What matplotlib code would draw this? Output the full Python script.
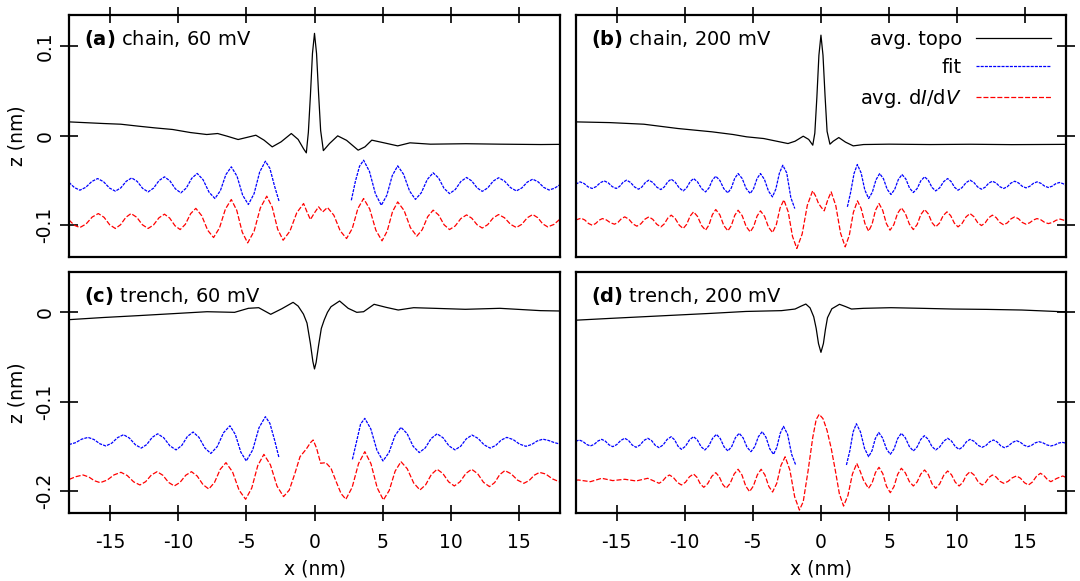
import matplotlib
matplotlib.use('Agg')
import matplotlib.pyplot as plt

plt.rcParams['font.family'] = ['DejaVu Sans']
plt.rcParams['axes.unicode_minus'] = False
plt.rcParams['mathtext.fontset'] = 'dejavusans'
plt.rcParams['lines.scale_dashes'] = False

# ---------------- tick definitions ----------------
x_ticks = [-15, -10, -5, 0, 5, 10, 15]
x_tick_labels = ['-15', '-10', '-5', '0', '5', '10', '15']
y_ticks_top = [-0.1, 0.0, 0.1]
y_tick_labels_top = ['-0.1', '0', '0.1']
y_ticks_bot = [-0.2, -0.1, 0.0]
y_tick_labels_bot = ['-0.2', '-0.1', '0']

panel_tags = ['(a)', '(b)', '(c)', '(d)']
panel_titles = ['chain, 60 mV', 'chain, 200 mV', 'trench, 60 mV', 'trench, 200 mV']
legend_labels = ['avg. topo', 'fit', r'avg. d$\mathit{I}$/d$\mathit{V}$']

# ---------------- panel (a): chain, 60 mV ----------------
x_topo_a = [-18, -15.5, -14.2, -12.9, -11.7, -10.4, -9.1, -7.9, -7.1, -6.4,
            -5.6, -5.0, -4.3, -3.7, -3.1, -2.45, -1.7, -1.2, -0.8, -0.6,
            -0.45, -0.3, -0.15, 0, 0.15, 0.3, 0.45, 0.65, 0.85, 1.1,
            1.7, 2.35, 3.2, 3.7, 4.2, 5.1, 6.1, 7.0, 8.5, 11.1,
            13.6, 16.6, 18]
z_topo_a = [0.0156, 0.0138, 0.013, 0.0108, 0.0089, 0.0071, 0.0037, 0.0015, 0.0026, -0.0004,
            -0.0041, -0.0019, 0.0007, -0.0048, -0.0123, -0.0067, 0.0026, -0.004, -0.0145, -0.019,
            0.004, 0.045, 0.092, 0.1145, 0.092, 0.047, 0.006, -0.0165, -0.013, -0.0086,
            0.0, -0.005, -0.016, -0.0123, -0.0048, -0.0078, -0.0112, -0.0078, -0.0093, -0.0088,
            -0.0093, -0.0097, -0.0095]

x_fitL_a = [-18.0, -17.6, -17.2, -16.77, -16.33, -15.9, -15.47, -15.03, -14.6, -14.2,
            -13.8, -13.4, -13.0, -12.6, -12.2, -11.8, -11.4, -11.0, -10.6, -10.2,
            -9.8, -9.4, -9.0, -8.6, -8.17, -7.73, -7.3, -6.9, -6.5, -6.1,
            -5.68, -5.27, -4.85, -4.43, -4.02, -3.6, -3.27, -2.93, -2.6]
z_fitL_a = [-0.052, -0.0578, -0.0607, -0.0575, -0.051, -0.0477, -0.0512, -0.0583, -0.0618, -0.0581,
            -0.0507, -0.047, -0.0509, -0.0587, -0.0626, -0.0584, -0.05, -0.0458, -0.0503, -0.0592,
            -0.0637, -0.0583, -0.0474, -0.042, -0.049, -0.063, -0.070, -0.0612, -0.0434, -0.0346,
            -0.0451, -0.0662, -0.0767, -0.0646, -0.0404, -0.0283, -0.0364, -0.0561, -0.073]

x_fitR_a = [2.7, 3.0, 3.3, 3.6, 4.03, 4.47, 4.9, 5.3, 5.7, 6.1,
            6.53, 6.97, 7.4, 7.83, 8.27, 8.7, 9.1, 9.5, 9.9, 10.32,
            10.73, 11.15, 11.53, 11.92, 12.3, 12.7, 13.1, 13.5, 13.93, 14.37,
            14.8, 15.2, 15.6, 16.0, 16.4, 16.8, 17.2, 17.6, 18.0]
z_fitR_a = [-0.072, -0.0507, -0.034, -0.0272, -0.0398, -0.0649, -0.0775, -0.0665, -0.0445, -0.0335,
            -0.0429, -0.0616, -0.071, -0.0636, -0.0487, -0.0413, -0.0471, -0.0587, -0.0645, -0.06,
            -0.051, -0.0465, -0.0504, -0.0581, -0.062, -0.0582, -0.0506, -0.0468, -0.0505, -0.0578,
            -0.0615, -0.0582, -0.0517, -0.0484, -0.0514, -0.0575, -0.0605, -0.0585, -0.0545]

x_didv_a = [-18.0, -17.6, -17.2, -16.75, -16.3, -15.85, -15.43, -15.02, -14.6, -14.22,
            -13.83, -13.45, -13.03, -12.62, -12.2, -11.8, -11.4, -11.0, -10.62, -10.23,
            -9.85, -9.47, -9.08, -8.7, -8.27, -7.83, -7.4, -6.97, -6.53, -6.1,
            -5.7, -5.3, -4.9, -4.43, -3.97, -3.5, -3.1, -2.7, -2.3, -1.8,
            -1.3, -0.8, -0.55, -0.3, 0.0, 0.3, 0.6, 0.95, 1.42, 1.88,
            2.35, 2.77, 3.18, 3.6, 4.05, 4.5, 4.95, 5.33, 5.72, 6.1,
            6.57, 7.03, 7.5, 7.9, 8.3, 8.7, 9.1, 9.5, 9.9, 10.32,
            10.73, 11.15, 11.53, 11.92, 12.3, 12.7, 13.1, 13.5, 13.93, 14.37,
            14.8, 15.2, 15.6, 16.0, 16.37, 16.73, 17.1, 17.55, 18.0]
z_didv_a = [-0.094, -0.1, -0.1024, -0.0985, -0.0907, -0.0868, -0.091, -0.0993, -0.1035, -0.0993,
            -0.091, -0.0868, -0.091, -0.0993, -0.1035, -0.0995, -0.0915, -0.0875, -0.0918, -0.1004,
            -0.1047, -0.0988, -0.0869, -0.081, -0.0892, -0.1055, -0.1136, -0.103, -0.0817, -0.0711,
            -0.0832, -0.1075, -0.1196, -0.1066, -0.0805, -0.0674, -0.0797, -0.1043, -0.1166, -0.1064,
            -0.0859, -0.0756, -0.085, -0.0935, -0.086, -0.0793, -0.085, -0.080, -0.0887, -0.106,
            -0.1147, -0.1035, -0.0812, -0.070, -0.0818, -0.1055, -0.1173, -0.1064, -0.0847, -0.0738,
            -0.0834, -0.1025, -0.1121, -0.1048, -0.0903, -0.083, -0.0884, -0.0993, -0.1047, -0.1006,
            -0.0924, -0.0883, -0.092, -0.0993, -0.103, -0.0992, -0.0917, -0.0879, -0.0915, -0.0988,
            -0.1024, -0.0988, -0.0915, -0.0879, -0.0914, -0.0983, -0.1017, -0.099, -0.093]

# ---------------- panel (b): chain, 200 mV ----------------
x_topo_b = [-18, -15.5, -13.0, -10.5, -8.0, -6.45, -5.45, -4.2, -2.42, -1.9,
            -1.3, -0.9, -0.6, -0.45, -0.3, -0.15, 0, 0.15, 0.3, 0.45,
            0.66, 0.9, 1.31, 1.8, 2.37, 3.13, 5.0, 8.0, 11.0, 14.0,
            18.0]
z_topo_b = [0.0156, 0.0148, 0.013, 0.0082, 0.0045, 0.0015, -0.0011, -0.003, -0.0086, -0.006,
            -0.0004, -0.004, -0.0104, 0.003, 0.043, 0.09, 0.1125, 0.09, 0.045, 0.005,
            -0.0093, -0.006, -0.0019, -0.007, -0.0112, -0.0097, -0.0093, -0.0097, -0.0094, -0.0098,
            -0.0095]

x_fitL_b = [-18.0, -17.68, -17.38, -17.09, -16.79, -16.5, -16.2, -15.91, -15.62, -15.32,
            -15.03, -14.78, -14.52, -14.27, -13.98, -13.68, -13.39, -13.14, -12.88, -12.63,
            -12.34, -12.04, -11.75, -11.5, -11.24, -10.99, -10.7, -10.4, -10.11, -9.86,
            -9.6, -9.35, -9.06, -8.76, -8.47, -8.22, -7.97, -7.72, -7.42, -7.13,
            -6.83, -6.58, -6.33, -6.08, -5.78, -5.49, -5.19, -4.94, -4.69, -4.44,
            -4.15, -3.85, -3.56, -3.31, -3.05, -2.8, -2.51, -2.21, -1.92]
z_fitL_b = [-0.054, -0.0514, -0.0533, -0.057, -0.0588, -0.0567, -0.0524, -0.0503, -0.0524, -0.0567,
            -0.0588, -0.0565, -0.0518, -0.0495, -0.052, -0.0571, -0.0596, -0.0571, -0.052, -0.0495,
            -0.0521, -0.0574, -0.06, -0.0571, -0.0513, -0.0484, -0.0517, -0.0582, -0.0615, -0.0581,
            -0.0512, -0.0477, -0.0514, -0.0589, -0.0626, -0.0582, -0.0495, -0.0451, -0.0498, -0.059,
            -0.0637, -0.0583, -0.0475, -0.0421, -0.0477, -0.0588, -0.0644, -0.0588, -0.0477, -0.0421,
            -0.0486, -0.0617, -0.0682, -0.0594, -0.0417, -0.0328, -0.0415, -0.069, -0.0812]

x_fitR_b = [1.94, 2.18, 2.43, 2.67, 2.95, 3.22, 3.5, 3.77, 4.04, 4.31,
            4.59, 4.86, 5.14, 5.41, 5.68, 5.95, 6.23, 6.5, 6.78, 7.06,
            7.33, 7.61, 7.88, 8.15, 8.42, 8.71, 9.01, 9.3, 9.55, 9.81,
            10.06, 10.35, 10.65, 10.94, 11.22, 11.5, 11.78, 12.05, 12.31, 12.58,
            12.86, 13.13, 13.41, 13.68, 13.95, 14.22, 14.5, 14.77, 15.05, 15.32,
            15.59, 15.86, 16.14, 16.41, 16.69, 16.96, 17.23, 17.5, 17.75, 18.0]
z_fitR_b = [-0.0793, -0.063, -0.042, -0.032, -0.0415, -0.0605, -0.07, -0.063, -0.0491, -0.0421,
            -0.048, -0.0597, -0.0655, -0.0599, -0.0488, -0.0432, -0.0482, -0.0583, -0.0633, -0.0589,
            -0.0502, -0.0458, -0.0497, -0.0576, -0.0615, -0.0581, -0.0511, -0.0477, -0.051, -0.0575,
            -0.0607, -0.0579, -0.0523, -0.0495, -0.052, -0.0571, -0.0596, -0.0574, -0.0529, -0.0507,
            -0.0527, -0.0568, -0.0588, -0.0568, -0.0527, -0.0507, -0.0526, -0.0563, -0.0581, -0.0564,
            -0.0531, -0.0514, -0.053, -0.0561, -0.0577, -0.0563, -0.0535, -0.0521, -0.0533, -0.0553]

x_didv_b = [-18.0, -17.6, -17.33, -17.06, -16.79, -16.54, -16.29, -16.04, -15.74, -15.45,
            -15.15, -14.9, -14.65, -14.4, -14.1, -13.81, -13.51, -13.22, -12.92, -12.63,
            -12.34, -12.04, -11.75, -11.5, -11.24, -10.99, -10.7, -10.4, -10.11, -9.86,
            -9.6, -9.35, -9.06, -8.76, -8.47, -8.22, -7.97, -7.72, -7.42, -7.13,
            -6.83, -6.58, -6.33, -6.08, -5.78, -5.49, -5.19, -4.94, -4.69, -4.44,
            -4.14, -3.85, -3.55, -3.27, -3.0, -2.72, -2.4, -2.09, -1.77, -1.38,
            -1.0, -0.61, -0.4, -0.18, 0.03, 0.24, 0.5, 0.75, 1.09, 1.44,
            1.78, 2.08, 2.38, 2.68, 2.95, 3.23, 3.5, 3.75, 4.0, 4.26,
            4.53, 4.8, 5.07, 5.35, 5.62, 5.9, 6.19, 6.49, 6.78, 7.06,
            7.33, 7.61, 7.88, 8.15, 8.42, 8.7, 8.97, 9.25, 9.52, 9.79,
            10.06, 10.35, 10.65, 10.94, 11.22, 11.5, 11.78, 12.05, 12.31, 12.58,
            12.86, 13.13, 13.41, 13.68, 13.95, 14.22, 14.5, 14.77, 15.05, 15.32,
            15.59, 15.86, 16.14, 16.41, 16.69, 16.98, 17.26, 17.55, 18.0]
z_didv_b = [-0.094, -0.092, -0.094, -0.0979, -0.0998, -0.098, -0.0943, -0.0924, -0.094, -0.0971,
            -0.0987, -0.0967, -0.0926, -0.0905, -0.0931, -0.0983, -0.1009, -0.0983, -0.0931, -0.0905,
            -0.0933, -0.0989, -0.1017, -0.0984, -0.0919, -0.0886, -0.0923, -0.0998, -0.1035, -0.0989,
            -0.0896, -0.0849, -0.09, -0.1003, -0.1054, -0.0996, -0.0881, -0.0823, -0.0883, -0.1002,
            -0.1061, -0.1004, -0.0889, -0.0831, -0.0892, -0.1013, -0.1073, -0.1014, -0.0897, -0.0838,
            -0.0899, -0.102, -0.108, -0.0989, -0.0806, -0.0715, -0.0851, -0.1122, -0.1258, -0.1097,
            -0.0775, -0.0614, -0.067, -0.0755, -0.080, -0.0838, -0.0715, -0.0626, -0.078, -0.1087,
            -0.124, -0.1112, -0.0855, -0.0726, -0.0811, -0.098, -0.1065, -0.0988, -0.0833, -0.0756,
            -0.0831, -0.0979, -0.1054, -0.0992, -0.0867, -0.0804, -0.0865, -0.0986, -0.1047, -0.0991,
            -0.0879, -0.0823, -0.0872, -0.0969, -0.1017, -0.0975, -0.0891, -0.0849, -0.0891, -0.0975,
            -0.1017, -0.098, -0.0905, -0.0868, -0.0902, -0.0969, -0.1002, -0.0973, -0.0915, -0.0886,
            -0.0913, -0.0967, -0.0994, -0.0972, -0.0927, -0.0905, -0.0926, -0.0967, -0.0987, -0.0971,
            -0.094, -0.0924, -0.0938, -0.0966, -0.098, -0.0968, -0.0943, -0.093, -0.095]

# ---------------- panel (c): trench, 60 mV ----------------
x_topo_c = [-18, -15.5, -12.93, -10.4, -7.88, -5.86, -4.85, -4.09, -3.21, -2.4,
            -1.57, -1.2, -0.81, -0.55, -0.3, -0.12, 0.0, 0.12, 0.3, 0.5,
            0.71, 0.95, 1.21, 1.84, 2.47, 3.1, 3.6, 4.37, 5.25, 6.14,
            7.27, 8.79, 11.06, 13.59, 16.57, 18.0]
z_topo_c = [-0.0082, -0.0058, -0.0037, -0.0015, 0.0007, 0.0, 0.0045, 0.0052, -0.0022, 0.004,
            0.0112, 0.007, -0.002, -0.012, -0.035, -0.055, -0.0634, -0.056, -0.037, -0.018,
            -0.0086, 0.0, 0.0063, 0.0127, 0.0045, 0.0, 0.0007, 0.009, 0.0056, 0.0026,
            0.0052, 0.0045, 0.0034, 0.0045, 0.0019, 0.0015]

x_fitL_c = [-18.0, -17.53, -17.07, -16.6, -16.17, -15.73, -15.3, -14.87, -14.43, -14.0,
            -13.57, -13.13, -12.7, -12.3, -11.9, -11.5, -11.05, -10.6, -10.15, -9.73,
            -9.32, -8.9, -8.47, -8.03, -7.6, -7.13, -6.67, -6.2, -5.8, -5.4,
            -5.0, -4.53, -4.07, -3.6, -3.27, -2.93, -2.6]
z_fitL_c = [-0.148, -0.146, -0.142, -0.140, -0.1424, -0.1472, -0.1496, -0.1465, -0.1402, -0.137,
            -0.1408, -0.1483, -0.152, -0.148, -0.14, -0.136, -0.1405, -0.1495, -0.154, -0.149,
            -0.139, -0.134, -0.14, -0.152, -0.158, -0.1503, -0.1348, -0.127, -0.1369, -0.1566,
            -0.1664, -0.154, -0.1292, -0.1168, -0.1243, -0.1428, -0.163]

x_fitR_c = [2.78, 3.08, 3.38, 3.69, 4.13, 4.58, 5.02, 5.46, 5.9, 6.34,
            6.79, 7.23, 7.68, 8.12, 8.55, 8.99, 9.43, 9.86, 10.3, 10.72,
            11.13, 11.55, 11.99, 12.44, 12.88, 13.29, 13.69, 14.1, 14.57, 15.03,
            15.5, 15.92, 16.33, 16.75, 17.17, 17.58, 18.0]
z_fitR_c = [-0.1646, -0.145, -0.125, -0.1187, -0.1306, -0.1545, -0.1664, -0.157, -0.1381, -0.1287,
            -0.1358, -0.1499, -0.157, -0.1518, -0.1413, -0.136, -0.1405, -0.1495, -0.154, -0.1499,
            -0.1416, -0.1374, -0.1411, -0.1484, -0.152, -0.149, -0.143, -0.140, -0.1425, -0.1475,
            -0.150, -0.148, -0.144, -0.142, -0.1435, -0.1458, -0.1475]

x_didv_c = [-17.98, -17.5, -16.97, -16.55, -16.13, -15.71, -15.2, -14.7, -14.19, -13.73,
            -13.26, -12.8, -12.38, -11.96, -11.54, -11.12, -10.7, -10.28, -9.86, -9.44,
            -9.02, -8.6, -8.17, -7.75, -7.33, -6.91, -6.49, -6.01, -5.53, -5.05,
            -4.6, -4.16, -3.71, -3.23, -2.75, -2.27, -1.85, -1.45, -1.06, -0.6,
            -0.3, -0.1, 0.15, 0.45, 0.83, 1.21, 1.6, 1.95, 2.3, 2.76,
            3.23, 3.69, 4.14, 4.6, 5.05, 5.48, 5.91, 6.34, 6.8, 7.27,
            7.73, 8.15, 8.57, 8.99, 9.41, 9.83, 10.25, 10.67, 11.1, 11.52,
            11.96, 12.39, 12.83, 13.21, 13.58, 13.96, 14.42, 14.89, 15.35, 15.73,
            16.12, 16.5, 16.95, 17.45, 18.0]
z_didv_c = [-0.187, -0.184, -0.1821, -0.1843, -0.1886, -0.1907, -0.1878, -0.182, -0.1791, -0.1827,
            -0.1898, -0.1933, -0.1896, -0.1821, -0.1784, -0.1824, -0.1904, -0.1944, -0.1904, -0.1824,
            -0.1784, -0.1833, -0.193, -0.1978, -0.1904, -0.1757, -0.1683, -0.1786, -0.1991, -0.2093,
            -0.1967, -0.1716, -0.159, -0.1708, -0.1945, -0.2063, -0.199, -0.181, -0.1616, -0.153,
            -0.146, -0.1429, -0.152, -0.169, -0.1683, -0.1746, -0.19, -0.203, -0.2093, -0.196,
            -0.1693, -0.156, -0.1695, -0.1966, -0.2101, -0.1994, -0.1779, -0.1672, -0.1751, -0.191,
            -0.1989, -0.1931, -0.1815, -0.1757, -0.1804, -0.1897, -0.1944, -0.1897, -0.1804, -0.1757,
            -0.1806, -0.1903, -0.1951, -0.1906, -0.1817, -0.1772, -0.1808, -0.1879, -0.1914, -0.1884,
            -0.1823, -0.1792, -0.181, -0.1865, -0.190]

# ---------------- panel (d): trench, 200 mV ----------------
x_topo_d = [-18, -15.5, -13.0, -10.5, -8.0, -5.5, -2.9, -1.9, -1.45, -1.11,
            -0.8, -0.53, -0.35, -0.18, 0.0, 0.18, 0.33, 0.48, 0.8, 1.36,
            1.8, 2.24, 3.13, 5.14, 7.4, 9.68, 12.2, 14.73, 18.0]
z_topo_d = [-0.0088, -0.0068, -0.0049, -0.003, -0.0011, 0.001, 0.0019, 0.0037, 0.007, 0.0093,
            0.005, -0.005, -0.018, -0.035, -0.0448, -0.035, -0.019, -0.006, 0.004, 0.009,
            0.0065, 0.0037, 0.0045, 0.0052, 0.0045, 0.0037, 0.0033, 0.0026, 0.0005]

x_fitL_d = [-18.0, -17.75, -17.47, -17.2, -16.92, -16.64, -16.37, -16.09, -15.82, -15.55,
            -15.28, -14.99, -14.69, -14.4, -14.12, -13.85, -13.57, -13.28, -13.0, -12.71,
            -12.43, -12.16, -11.88, -11.58, -11.29, -10.99, -10.74, -10.49, -10.24, -9.94,
            -9.65, -9.35, -9.07, -8.8, -8.52, -8.24, -7.95, -7.67, -7.39, -7.11,
            -6.83, -6.55, -6.28, -6.0, -5.71, -5.43, -5.14, -4.86, -4.59, -4.31,
            -4.03, -3.76, -3.48, -3.24, -2.99, -2.75, -2.45, -2.15, -1.85]
z_fitL_d = [-0.1445, -0.1429, -0.1446, -0.1479, -0.1496, -0.1478, -0.1441, -0.1422, -0.1443, -0.1484,
            -0.1504, -0.1481, -0.1434, -0.141, -0.1435, -0.1486, -0.1511, -0.1486, -0.1435, -0.141,
            -0.1436, -0.1489, -0.1515, -0.1484, -0.1423, -0.1392, -0.1428, -0.1499, -0.1534, -0.1499,
            -0.1428, -0.1392, -0.1429, -0.1504, -0.1541, -0.1497, -0.141, -0.1366, -0.1413, -0.1506,
            -0.1552, -0.1503, -0.1404, -0.1354, -0.1406, -0.1509, -0.156, -0.1504, -0.1392, -0.1336,
            -0.14, -0.1527, -0.159, -0.1512, -0.1355, -0.1276, -0.1365, -0.159, -0.171]

x_fitR_d = [1.87, 2.12, 2.36, 2.6, 2.9, 3.2, 3.5, 3.75, 3.99, 4.24,
            4.52, 4.81, 5.09, 5.36, 5.63, 5.9, 6.19, 6.49, 6.78, 7.05,
            7.32, 7.59, 7.87, 8.14, 8.42, 8.71, 9.01, 9.3, 9.58, 9.86,
            10.14, 10.41, 10.67, 10.94, 11.24, 11.53, 11.83, 12.11, 12.38, 12.66,
            12.93, 13.19, 13.46, 13.76, 14.05, 14.35, 14.63, 14.9, 15.18, 15.45,
            15.72, 15.99, 16.28, 16.58, 16.87, 17.15, 17.42, 17.7, 18.0]
z_fitR_d = [-0.1709, -0.155, -0.134, -0.1247, -0.1339, -0.1524, -0.1616, -0.1548, -0.1413, -0.1345,
            -0.1406, -0.1529, -0.159, -0.1531, -0.1413, -0.1354, -0.1404, -0.1503, -0.1552, -0.1509,
            -0.1424, -0.1381, -0.1421, -0.1501, -0.1541, -0.1508, -0.1443, -0.141, -0.1441, -0.1503,
            -0.1534, -0.1506, -0.145, -0.1422, -0.1444, -0.1489, -0.1511, -0.1491, -0.145, -0.1429,
            -0.1451, -0.1494, -0.1515, -0.1496, -0.1457, -0.1437, -0.1454, -0.1487, -0.1504, -0.149,
            -0.1462, -0.1448, -0.146, -0.1484, -0.1496, -0.1486, -0.1465, -0.1455, -0.1465]

x_didv_d = [-18.0, -17.8, -16.92, -16.09, -15.28, -14.4, -13.57, -12.71, -11.88, -11.63,
            -11.37, -11.12, -10.83, -10.53, -10.24, -9.94, -9.65, -9.35, -9.1, -8.85,
            -8.6, -8.31, -8.01, -7.72, -7.47, -7.21, -6.96, -6.67, -6.37, -6.08,
            -5.8, -5.52, -5.24, -4.96, -4.67, -4.39, -4.11, -3.83, -3.55, -3.24,
            -2.94, -2.63, -2.28, -1.93, -1.58, -1.3, -0.95, -0.6, -0.35, -0.13,
            0.15, 0.44, 0.75, 1.05, 1.35, 1.66, 1.98, 2.31, 2.63, 2.88,
            3.12, 3.49, 3.75, 4.0, 4.26, 4.54, 4.81, 5.09, 5.36, 5.63,
            5.9, 6.19, 6.49, 6.78, 7.06, 7.33, 7.61, 7.88, 8.15, 8.42,
            8.71, 9.01, 9.3, 9.58, 9.86, 10.14, 10.41, 10.67, 10.94, 11.24,
            11.53, 11.83, 12.08, 12.33, 12.58, 12.86, 13.13, 13.41, 13.72, 14.04,
            14.35, 14.64, 14.94, 15.23, 15.52, 15.82, 16.11, 16.36, 16.62, 16.87,
            17.3, 17.75, 18.0]
z_didv_d = [-0.188, -0.1877, -0.1896, -0.1858, -0.1884, -0.1869, -0.1888, -0.1858, -0.1914, -0.189,
            -0.1844, -0.1821, -0.1849, -0.1905, -0.1933, -0.1902, -0.1841, -0.181, -0.1847, -0.1922,
            -0.1959, -0.1918, -0.1836, -0.1795, -0.1839, -0.1926, -0.197, -0.1917, -0.181, -0.1757,
            -0.182, -0.1945, -0.2007, -0.1945, -0.182, -0.1757, -0.1821, -0.1948, -0.2012, -0.1913,
            -0.1716, -0.1617, -0.1766, -0.2065, -0.2214, -0.212, -0.178, -0.14, -0.12, -0.1142,
            -0.119, -0.1318, -0.152, -0.1766, -0.203, -0.2169, -0.205, -0.1811, -0.1691, -0.178,
            -0.1878, -0.1971, -0.1912, -0.1794, -0.1735, -0.1806, -0.1948, -0.2019, -0.1951, -0.1814,
            -0.1746, -0.1796, -0.1895, -0.1944, -0.1899, -0.181, -0.1765, -0.1816, -0.1919, -0.197,
            -0.1922, -0.1825, -0.1776, -0.1818, -0.1902, -0.1944, -0.1904, -0.1824, -0.1784, -0.1821,
            -0.1896, -0.1933, -0.1905, -0.1849, -0.1821, -0.1844, -0.1891, -0.1914, -0.1894, -0.1853,
            -0.1832, -0.1857, -0.1908, -0.1933, -0.19, -0.1835, -0.1802, -0.1826, -0.1872, -0.1896,
            -0.186, -0.1832, -0.185]

# ---------------- figure ----------------
W, H = 1080.0, 581.0
fig = plt.figure(figsize=(10.8, 5.81), dpi=100)

def rect(l, t, r, b):
    return [l / W, 1 - b / H, (r - l) / W, (b - t) / H]

panels = [
    dict(rect=rect(69, 15, 560, 256.7), ylim=(-0.135, 0.135), yt=y_ticks_top, ytl=y_tick_labels_top,
         left=True, bottom=False,
         topo=(x_topo_a, z_topo_a), fitL=(x_fitL_a, z_fitL_a), fitR=(x_fitR_a, z_fitR_a), didv=(x_didv_a, z_didv_a)),
    dict(rect=rect(575.7, 15, 1066.2, 256.7), ylim=(-0.135, 0.135), yt=y_ticks_top, ytl=y_tick_labels_top,
         left=False, bottom=False,
         topo=(x_topo_b, z_topo_b), fitL=(x_fitL_b, z_fitL_b), fitR=(x_fitR_b, z_fitR_b), didv=(x_didv_b, z_didv_b)),
    dict(rect=rect(69, 271.7, 560, 513.3), ylim=(-0.225, 0.0455), yt=y_ticks_bot, ytl=y_tick_labels_bot,
         left=True, bottom=True,
         topo=(x_topo_c, z_topo_c), fitL=(x_fitL_c, z_fitL_c), fitR=(x_fitR_c, z_fitR_c), didv=(x_didv_c, z_didv_c)),
    dict(rect=rect(575.7, 271.7, 1066.2, 513.3), ylim=(-0.225, 0.0455), yt=y_ticks_bot, ytl=y_tick_labels_bot,
         left=False, bottom=True,
         topo=(x_topo_d, z_topo_d), fitL=(x_fitL_d, z_fitL_d), fitR=(x_fitR_d, z_fitR_d), didv=(x_didv_d, z_didv_d)),
]

BLUE = '#0000ff'
RED = '#ff0000'
LW = 0.9
axes = []
for i, p in enumerate(panels):
    ax = fig.add_axes(p['rect'])
    axes.append(ax)
    h_topo, = ax.plot(*p['topo'], color='black', lw=LW, solid_joinstyle='round')
    h_fit, = ax.plot(*p['fitL'], color=BLUE, lw=LW, dashes=(2.2, 0.8))
    ax.plot(*p['fitR'], color=BLUE, lw=LW, dashes=(2.2, 0.8))
    h_didv, = ax.plot(*p['didv'], color=RED, lw=LW, dashes=(3.6, 1.4))

    ax.set_xlim(-18, 18)
    ax.set_ylim(*p['ylim'])
    ax.set_xticks(x_ticks)
    ax.set_xticklabels(x_tick_labels)
    ax.set_yticks(p['yt'])
    ax.set_yticklabels(p['ytl'], rotation=90, va='center')

    ax.tick_params(axis='x', direction='inout', length=11.5, width=1.2, labelsize=13.5, pad=8.5,
                   top=not p['bottom'], bottom=p['bottom'], labeltop=False, labelbottom=p['bottom'])
    ax.tick_params(axis='y', direction='inout', length=13, width=1.2, labelsize=13.5, pad=4,
                   left=p['left'], right=not p['left'], labelleft=p['left'], labelright=False)
    for sp in ax.spines.values():
        sp.set_linewidth(1.6)

    ax.text(0.031, 0.875, r'$\mathbf{' + panel_tags[i] + '}$ ' + panel_titles[i],
            transform=ax.transAxes, fontsize=14, ha='left', va='baseline')

    if p['left']:
        ax.set_ylabel('z (nm)', fontsize=13.5, va='center')
        ax.yaxis.set_label_coords(-0.1055, 0.5)
    if p['bottom']:
        ax.set_xlabel('x (nm)', fontsize=13.5, va='center')
        ax.xaxis.set_label_coords(0.5, -0.2305)

    if i == 1:
        ax.legend([h_topo, h_fit, h_didv], legend_labels, loc='upper right',
                  bbox_to_anchor=(0.97, 0.94), frameon=False, markerfirst=False,
                  handlelength=3.9, handletextpad=0.7, labelspacing=0.5,
                  borderpad=0, borderaxespad=0, fontsize=14)

fig.savefig('out.png', dpi=100)
